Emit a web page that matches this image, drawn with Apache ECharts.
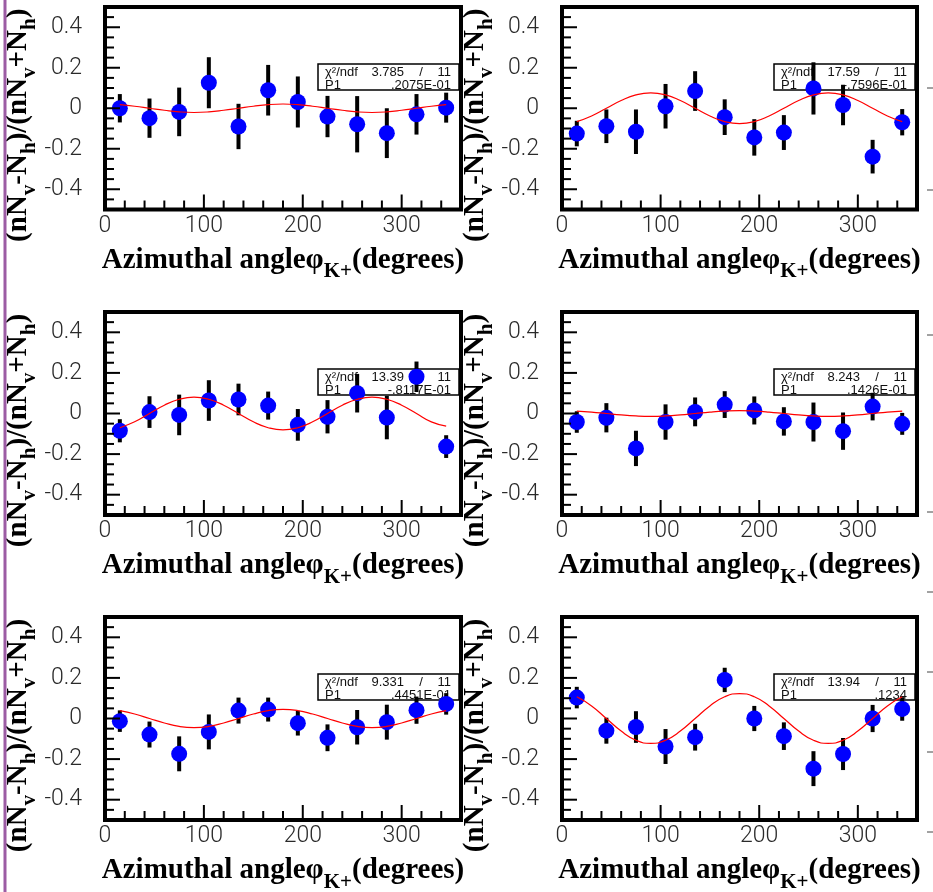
<!DOCTYPE html>
<html><head><meta charset="utf-8">
<script src="https://cdn.jsdelivr.net/npm/echarts@6/dist/echarts.min.js"></script>
<style>html,body{margin:0;padding:0;background:#fff;}#c{width:933px;height:892px;}</style>
</head><body><div id="c"></div>
<script>
// ---- data ----
const angles = [15, 45, 75, 105, 135, 165, 195, 225, 255, 285, 315, 345];

const asym1 = [0.000, -0.049, -0.018, 0.126, -0.090, 0.089, 0.031, -0.041, -0.079, -0.123, -0.030, 0.003];
const err1  = [0.070, 0.097, 0.120, 0.126, 0.112, 0.125, 0.126, 0.102, 0.139, 0.123, 0.100, 0.074];
const asym2 = [-0.125, -0.089, -0.116, 0.010, 0.085, -0.044, -0.144, -0.120, 0.098, 0.016, -0.239, -0.069];
const err2  = [0.063, 0.083, 0.110, 0.110, 0.098, 0.088, 0.090, 0.086, 0.129, 0.100, 0.083, 0.065];
const asym3 = [-0.085, 0.007, -0.007, 0.064, 0.069, 0.039, -0.056, -0.016, 0.100, -0.020, 0.181, -0.163];
const err3  = [0.057, 0.078, 0.100, 0.100, 0.078, 0.069, 0.078, 0.082, 0.095, 0.107, 0.075, 0.056];
const asym4 = [-0.042, -0.021, -0.172, -0.042, 0.008, 0.044, 0.015, -0.039, -0.042, -0.087, 0.034, -0.051];
const err4  = [0.053, 0.072, 0.087, 0.087, 0.071, 0.066, 0.069, 0.070, 0.096, 0.092, 0.068, 0.054];
const asym5 = [-0.013, -0.079, -0.174, -0.066, 0.039, 0.044, -0.023, -0.095, -0.043, -0.018, 0.041, 0.072];
const err5  = [0.053, 0.064, 0.086, 0.086, 0.064, 0.059, 0.061, 0.066, 0.085, 0.086, 0.067, 0.053];
const asym6 = [0.103, -0.060, -0.042, -0.138, -0.092, 0.190, 0.000, -0.087, -0.247, -0.175, 0.000, 0.047];
const err6  = [0.053, 0.064, 0.078, 0.086, 0.066, 0.060, 0.062, 0.068, 0.086, 0.079, 0.067, 0.058];

// fitted curves (red), read at 15 degree steps
const fitAngles = [15, 30, 45, 60, 75, 90, 105, 120, 135, 150, 165, 180, 195, 210, 225, 240, 255, 270, 285, 300, 315, 330, 345];
const fit1 = [0.018, 0.010, 0, -0.010, -0.018, -0.021, -0.018, -0.010, 0, 0.010, 0.018, 0.021, 0.018, 0.010, 0, -0.010, -0.018, -0.021, -0.018, -0.010, 0, 0.010, 0.018];
const fit2 = [-0.066, -0.038, 0, 0.038, 0.066, 0.076, 0.066, 0.038, 0, -0.038, -0.066, -0.076, -0.066, -0.038, 0, 0.038, 0.066, 0.076, 0.066, 0.038, 0, -0.038, -0.066];
const fit3 = [-0.070, -0.041, 0, 0.041, 0.070, 0.081, 0.070, 0.041, 0, -0.041, -0.070, -0.081, -0.070, -0.041, 0, 0.041, 0.070, 0.081, 0.070, 0.041, 0, -0.041, -0.062];
const fit4 = [0.012, 0.007, 0, -0.007, -0.012, -0.014, -0.012, -0.007, 0, 0.007, 0.012, 0.014, 0.012, 0.007, 0, -0.007, -0.012, -0.014, -0.012, -0.007, 0, 0.007, 0.012];
const fit5 = [0.039, 0.022, 0, -0.022, -0.039, -0.045, -0.039, -0.022, 0, 0.022, 0.039, 0.045, 0.039, 0.022, 0, -0.022, -0.039, -0.045, -0.039, -0.022, 0, 0.022, 0.039];
const fit6 = [0.107, 0.062, 0, -0.062, -0.107, -0.123, -0.107, -0.062, 0, 0.062, 0.107, 0.123, 0.107, 0.062, 0, -0.062, -0.107, -0.123, -0.107, -0.062, 0, 0.062, 0.107];

// fit statistics boxes
const chi2Text = ['3.785', '17.59', '13.39', '8.243', '9.331', '13.94'];
const ndfText  = ['11', '11', '11', '11', '11', '11'];
const p1Text   = ['.2075E-01', '-.7596E-01', '-.8117E-01', '.1426E-01', '.4451E-01', '.1234'];

// tick labels and tick marks
const xTickLabels = [0, 100, 200, 300];
const xMajorTicks = [100, 200, 300];
const xMinorTicks = [20, 40, 60, 80, 120, 140, 160, 180, 220, 240, 260, 280, 320, 340];
const yTickLabels = [-0.4, -0.2, 0, 0.2, 0.4];
const yMinorTicks = [-0.45, -0.35, -0.3, -0.25, -0.15, -0.1, -0.05, 0.05, 0.1, 0.15, 0.25, 0.3, 0.35, 0.45];

const panelAsym = [asym1, asym2, asym3, asym4, asym5, asym6];
const panelErr  = [err1, err2, err3, err4, err5, err6];
const panelFit  = [fit1, fit2, fit3, fit4, fit5, fit6];

// ---- layout ----
const colLeft = [105, 562];
const colWidth = [356, 355];
const rowTop = [7, 312, 617];
const rowHeight = [202.5, 203, 203];

const grids = [], xAxes = [], yAxes = [], series = [], graphics = [];
const serif = '"Liberation Serif", "DejaVu Serif", serif';
const labelFont = { fontFamily: 'Roboto, "Liberation Sans", sans-serif', fontWeight: 300, fontSize: 23, color: '#2a2a2a' };
const richSub = { fontFamily: serif, fontWeight: 'bold', fontSize: 21, lineHeight: 21, padding: [23, 0, 0, 0], color: '#000' };

for (let i = 0; i < 6; i++) {
  const r = Math.floor(i / 2), c = i % 2;
  const L = colLeft[c], T = rowTop[r], W = colWidth[c], H = rowHeight[r];
  grids.push({ left: L, top: T, width: W, height: H, show: true, borderColor: '#000', borderWidth: 4, backgroundColor: 'transparent', containLabel: false, outerBoundsMode: 'none' });

  xAxes.push({
    type: 'value', gridIndex: i, position: 'bottom', min: 0, max: 360,
    axisLine: { show: false, onZero: false }, splitLine: { show: false }, axisTick: { show: false },
    axisLabel: Object.assign({ margin: 5, customValues: xTickLabels }, labelFont),
    name: 'Azimuthal angleφ{s|K+}(degrees)', nameLocation: 'middle', nameGap: 29,
    nameTextStyle: { fontFamily: serif, fontWeight: 'bold', fontSize: 29, lineHeight: 30, color: '#000', rich: { s: richSub } }
  });
  yAxes.push({
    type: 'value', gridIndex: i, position: 'left', min: -0.5, max: 0.5,
    axisLine: { show: false, onZero: false }, splitLine: { show: false }, axisTick: { show: false },
    axisLabel: Object.assign({ margin: 23, customValues: yTickLabels }, labelFont),
    name: '(nN{s|v}-N{s|h})/(nN{s|v}+N{s|h})', nameLocation: 'middle', nameGap: 58, nameRotate: 90,
    nameTextStyle: { fontFamily: serif, fontWeight: 'bold', fontSize: 29, lineHeight: 30, color: '#000', padding: [0, 34, 0, 0], rich: { s: richSub } }
  });

  const vals = panelAsym[i], errs = panelErr[i], fit = panelFit[i];
  series.push({
    type: 'custom', xAxisIndex: i, yAxisIndex: i, z: 3,
    data: angles.map((a, k) => [a, vals[k], errs[k]]),
    encode: { x: 0, y: 1 },
    renderItem: function (params, api) {
      const x = api.value(0), y = api.value(1), e = api.value(2);
      const p1 = api.coord([x, y - e]), p2 = api.coord([x, y + e]);
      return { type: 'line', shape: { x1: p1[0], y1: p1[1], x2: p2[0], y2: p2[1] }, style: { stroke: '#000', lineWidth: 4 } };
    }
  });
  series.push({
    type: 'scatter', xAxisIndex: i, yAxisIndex: i, z: 4,
    symbol: 'circle', symbolSize: 16, itemStyle: { color: '#0000ff', opacity: 1 },
    data: angles.map((a, k) => [a, vals[k]])
  });
  series.push({
    type: 'line', xAxisIndex: i, yAxisIndex: i, z: 5,
    smooth: 0.5, showSymbol: false, symbol: 'none',
    lineStyle: { color: '#ff0000', width: 1.2 },
    data: fitAngles.map((a, k) => [a, fit[k]])
  });

  // statistics box
  const bx = L + W - 143, by = T + 57, bw = 141, bh = 26;
  graphics.push({ type: 'rect', z: 1, shape: { x: bx, y: by, width: bw, height: bh }, style: { fill: '#fff', stroke: '#000', lineWidth: 1.5 } });
  const tstyle = (text, x, y, align) => ({ type: 'text', z: 1, x: x, y: y, style: { text: text, fontSize: 13, fontFamily: '"Liberation Sans", Arial, sans-serif', fill: '#111', align: align, verticalAlign: 'middle' } });
  graphics.push(tstyle('χ²/ndf', bx + 7, by + 8.5, 'left'));
  graphics.push(tstyle(chi2Text[i], bx + 86, by + 8.5, 'right'));
  graphics.push(tstyle('/', bx + 103, by + 8.5, 'center'));
  graphics.push(tstyle(ndfText[i], bx + 133, by + 8.5, 'right'));
  graphics.push(tstyle('P1', bx + 7, by + 21, 'left'));
  graphics.push(tstyle(p1Text[i], bx + 133, by + 21, 'right'));
}

// purple margin line at left
graphics.push({ type: 'rect', z: 1, shape: { x: 3.5, y: 0, width: 3, height: 892 }, style: { fill: '#9c5ca4' } });
// fragments of neighbouring figure at the right edge
[88, 190, 335, 512, 592, 672, 752, 832].forEach(y => {
  graphics.push({ type: 'line', z: 1, shape: { x1: 927, y1: y, x2: 933, y2: y }, style: { stroke: '#444', lineWidth: 1 } });
});

const chart = echarts.init(document.getElementById('c'), null, { renderer: 'canvas' });
chart.setOption({
  animation: false,
  backgroundColor: '#fff',
  grid: grids, xAxis: xAxes, yAxis: yAxes, series: series
});

// inner tick marks, positioned through each grid's axis scales
for (let i = 0; i < 6; i++) {
  const finder = { xAxisIndex: i, yAxisIndex: i };
  const px = (x, y) => chart.convertToPixel(finder, [x, y]);
  const tick = (p, len, horiz) => ({
    type: 'line', z: 10,
    shape: horiz ? { x1: p[0], y1: p[1], x2: p[0] + len, y2: p[1] } : { x1: p[0], y1: p[1], x2: p[0], y2: p[1] - len },
    style: { stroke: '#000', lineWidth: 2 }
  });
  xMajorTicks.forEach(v => { const p = px(v, -0.5); if (p) graphics.push(tick(p, 15, false)); });
  xMinorTicks.forEach(v => { const p = px(v, -0.5); if (p) graphics.push(tick(p, 9, false)); });
  yTickLabels.forEach(v => { const p = px(0, v); if (p) graphics.push(tick(p, 15, true)); });
  yMinorTicks.forEach(v => { const p = px(0, v); if (p) graphics.push(tick(p, 9, true)); });
}
chart.setOption({ graphic: { elements: graphics } });
</script></body></html>
